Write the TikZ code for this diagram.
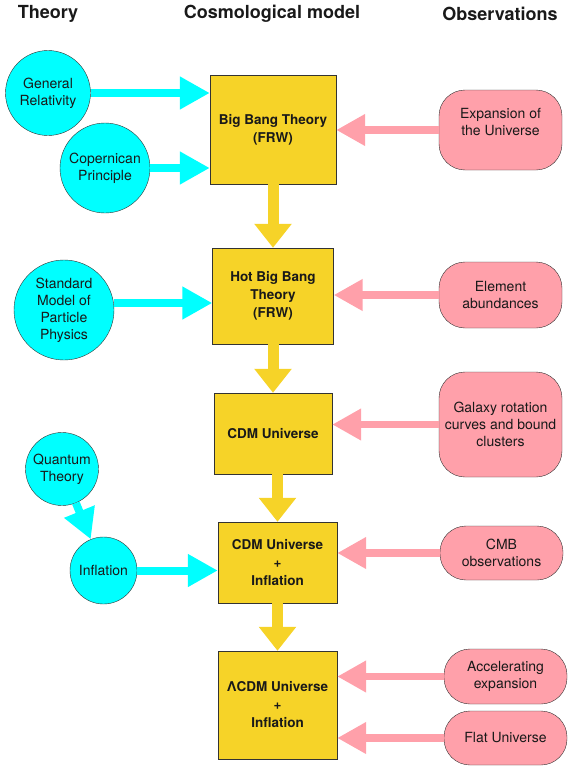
\documentclass[tikz,border=0pt]{standalone}
\usepackage{fontspec}
\setmainfont{TeX Gyre Heros}
\usetikzlibrary{arrows.meta}
\definecolor{theorycyan}{RGB}{0,255,255}
\definecolor{modelyellow}{RGB}{246,211,40}
\definecolor{obspink}{RGB}{255,160,170}

\begin{document}
\begin{tikzpicture}[x=1pt, y=-1pt,
  every node/.style = {align=center, text=black!90},
  head/.style = {font=\bfseries\fontsize{18}{20}\selectfont},
  theory/.style = {shape=circle, draw=black!80, fill=theorycyan,
    inner sep=0pt, font=\fontsize{14}{17}\selectfont},
  model/.style = {shape=rectangle, draw=black!80, fill=modelyellow,
    inner sep=2pt, font=\bfseries\fontsize{13.5}{18}\selectfont},
  obs/.style = {shape=rectangle, rounded corners=26pt, draw=black!80,
    fill=obspink, minimum width=123pt, font=\fontsize{14}{17}\selectfont},
  theoryarrow/.style = {theorycyan, line width=8pt, -{Triangle[length=30pt,width=31pt]}},
  obsarrow/.style = {obspink, line width=7.5pt, -{Triangle[length=29pt,width=30pt]}},
  modelarrow/.style = {modelyellow, line width=11pt, -{Triangle[length=24pt,width=36pt]}}]
  \useasboundingbox (0,0) rectangle (578,768);

  % column heads
  \node[head] (theoryhead) at (48,14) {Theory};
  \node[head] (modelhead) at (272,14) {Cosmological model};
  \node[head] (obshead) at (500,14) {Observations};

  % theory
  \node[theory, minimum size=85pt] (gr) at (48,93) {General\\Relativity};
  \node[theory, minimum size=90pt] (cp) at (105,168) {Copernican\\Principle};
  \node[theory, minimum size=100pt] (sm) at (64,310) {Standard\\Model of\\Particle\\Physics};
  \node[theory, minimum size=73pt] (qt) at (62,469) {Quantum\\Theory};
  \node[theory, minimum size=67pt] (infl) at (103.5,570.5) {Inflation};

  % cosmological model
  \node[model, minimum width=126pt, minimum height=109pt] (bbt) at (273,129.5) {Big Bang Theory\\(FRW)};
  \node[model, minimum width=121pt, minimum height=96pt] (hbb) at (273,296) {Hot Big Bang\\Theory\\(FRW)};
  \node[model, minimum width=118pt, minimum height=81pt] (cdm) at (273,433.5) {CDM Universe};
  \node[model, minimum width=119pt, minimum height=81pt] (cdmi) at (277.5,562.5) {CDM Universe\\+\\Inflation};
  \node[model, minimum width=119pt, minimum height=108pt] (lcdm) at (277.5,705) {ΛCDM Universe\\+\\Inflation};

  % observations
  \node[obs, minimum height=80pt] (expansion) at (500.5,130) {Expansion of\\the Universe\\\mbox{}};
  \node[obs, minimum height=66pt] (elements) at (500.5,295) {Element\\abundances};
  \node[obs, minimum height=105pt] (galaxy) at (500.5,424.5) {Galaxy rotation\\curves and bound\\clusters};
  \node[obs, minimum height=54pt] (cmb) at (501.5,553) {CMB\\observations};
  \node[obs, minimum height=55pt] (accel) at (505.5,676.5) {Accelerating\\expansion};
  \node[obs, minimum height=54pt] (flat) at (505.5,738) {Flat Universe};

  % arrows
  \draw[theoryarrow] (gr.east) -- (gr.east -| bbt.west);
  \draw[theoryarrow] (cp.east) -- (cp.east -| bbt.west);
  \draw[theoryarrow] (sm.8) -- (sm.8 -| hbb.west);
  \draw[theoryarrow] (qt) -- (infl);
  \draw[theoryarrow] (infl.east) -- (infl.east -| cdmi.west);

  \foreach \obs/\mod in {expansion/bbt, elements/hbb, galaxy/cdm, cmb/cdmi, accel/lcdm, flat/lcdm}
    \draw[obsarrow] (\obs.west) -- (\obs.west -| \mod.east);

  \draw[modelarrow] (bbt.south) -- (bbt.south |- hbb.north);
  \draw[modelarrow] (hbb.south) -- (hbb.south |- cdm.north);
  \draw[modelarrow] (cdmi.north |- cdm.south) -- (cdmi.north);
  \draw[modelarrow] (cdmi.south) -- (lcdm.north);
\end{tikzpicture}
\end{document}
